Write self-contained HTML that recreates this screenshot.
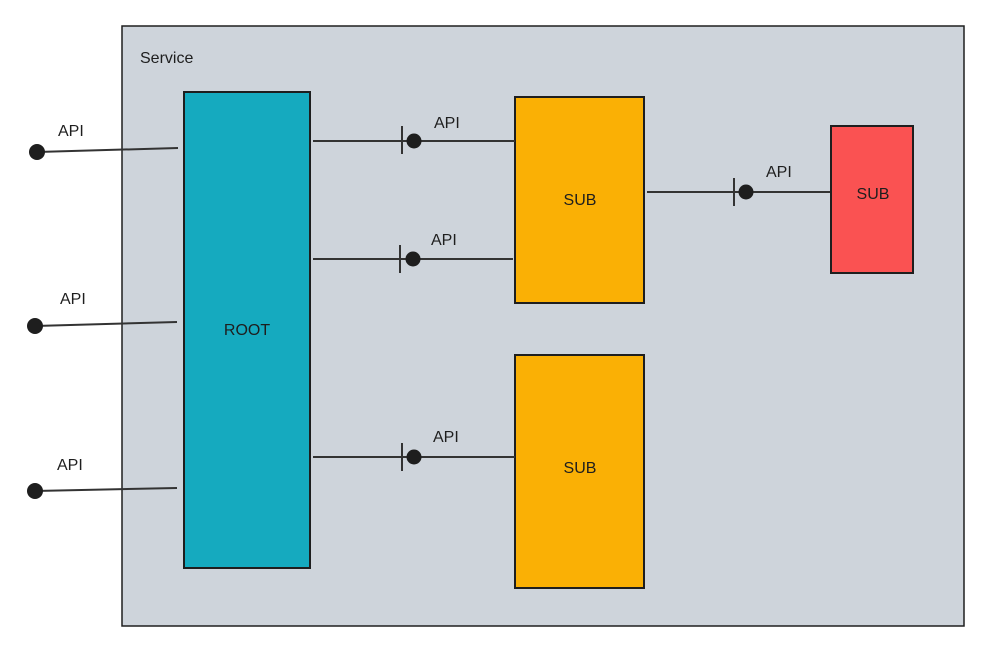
<!DOCTYPE html>
<html><head><meta charset="utf-8"><style>
html,body{margin:0;padding:0;background:#fff;}
svg{display:block;}
text{font-family:"Liberation Sans",sans-serif;fill:#1e1e1e;}
</style></head><body>
<svg width="987" height="652" viewBox="0 0 987 652" xmlns="http://www.w3.org/2000/svg">
<rect x="122" y="26" width="842" height="600" fill="#ced4db" stroke="#1e1e1e" stroke-width="1.5"/>
<text x="140" y="63" font-size="16">Service</text>
<rect x="184" y="92" width="126" height="476" fill="#15aabf" stroke="#1e1e1e" stroke-width="2"/>
<text x="247" y="335" font-size="16" text-anchor="middle">ROOT</text>
<rect x="515" y="97" width="129" height="206" fill="#fab005" stroke="#1e1e1e" stroke-width="2"/>
<text x="580" y="205" font-size="16" text-anchor="middle">SUB</text>
<rect x="515" y="355" width="129" height="233" fill="#fab005" stroke="#1e1e1e" stroke-width="2"/>
<text x="580" y="473" font-size="16" text-anchor="middle">SUB</text>
<rect x="831" y="126" width="82" height="147" fill="#fa5252" stroke="#1e1e1e" stroke-width="2"/>
<text x="873" y="199" font-size="16" text-anchor="middle">SUB</text>
<g stroke="#333" stroke-width="2" fill="none">
<line x1="37" y1="152" x2="178" y2="148"/>
<line x1="35" y1="326" x2="177" y2="322"/>
<line x1="35" y1="491" x2="177" y2="488"/>
<line x1="313" y1="141" x2="515" y2="141"/>
<line x1="402" y1="126" x2="402" y2="154"/>
<line x1="313" y1="259" x2="513" y2="259"/>
<line x1="400" y1="245" x2="400" y2="273"/>
<line x1="313" y1="457" x2="515" y2="457"/>
<line x1="402" y1="443" x2="402" y2="471"/>
<line x1="647" y1="192" x2="830" y2="192"/>
<line x1="734" y1="178" x2="734" y2="206"/>
</g>
<g fill="#1e1e1e">
<circle cx="37" cy="152" r="8"/>
<circle cx="35" cy="326" r="8"/>
<circle cx="35" cy="491" r="8"/>
<circle cx="414" cy="141" r="7.5"/>
<circle cx="413" cy="259" r="7.5"/>
<circle cx="414" cy="457" r="7.5"/>
<circle cx="746" cy="192" r="7.5"/>
</g>
<g font-size="16">
<text x="58" y="136">API</text>
<text x="60" y="304">API</text>
<text x="57" y="470">API</text>
<text x="434" y="128">API</text>
<text x="431" y="245">API</text>
<text x="433" y="442">API</text>
<text x="766" y="177">API</text>
</g>
</svg>
</body></html>
